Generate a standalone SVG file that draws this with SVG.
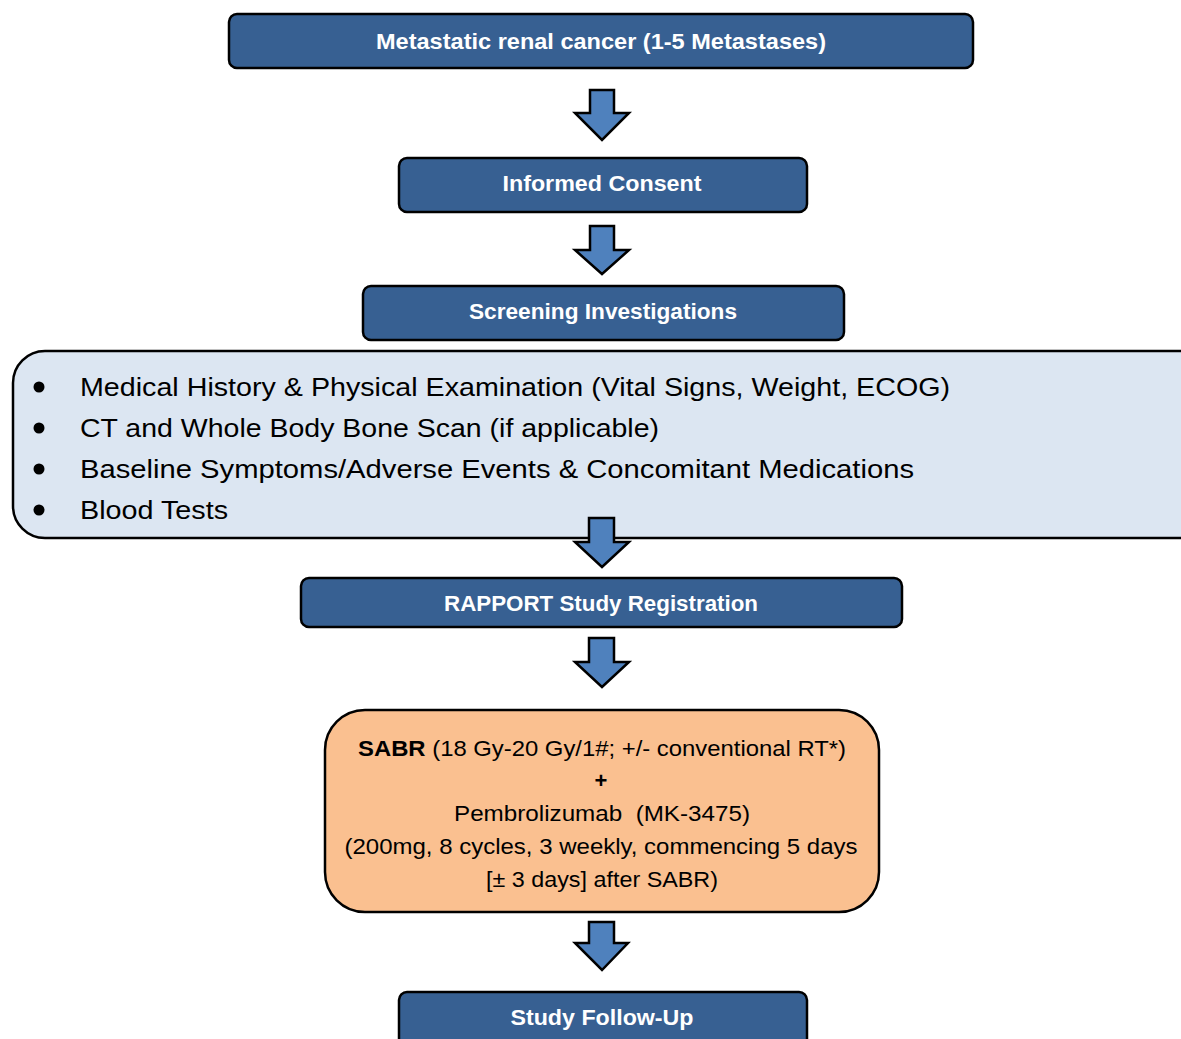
<svg xmlns="http://www.w3.org/2000/svg" width="1181" height="1039" viewBox="0 0 1181 1039">
<defs>
<style>
.hdr{fill:#376092;stroke:#000;stroke-width:2.5}
.hdrt{fill:#fff;font-family:"Liberation Sans",Arial,sans-serif;font-weight:bold;font-size:22px;text-anchor:middle}
.arr{fill:#4f81bd;stroke:#000;stroke-width:2.5;stroke-linejoin:miter}
.lst{font-family:"Liberation Sans",Arial,sans-serif;font-size:26px;fill:#000}
.ot{font-family:"Liberation Sans",Arial,sans-serif;font-size:22px;fill:#000;text-anchor:middle}
</style>
</defs>
<rect width="1181" height="1039" fill="#fff"/>
<g id="n1"><rect class="hdr" x="229" y="14" width="744" height="54" rx="8"/><text class="hdrt" x="601" y="49" textLength="450" lengthAdjust="spacingAndGlyphs">Metastatic renal cancer (1-5 Metastases)</text></g>
<g id="n2"><rect class="hdr" x="399" y="158" width="408" height="54" rx="8"/><text class="hdrt" x="602" y="191" textLength="199" lengthAdjust="spacingAndGlyphs">Informed Consent</text></g>
<g id="n3"><rect class="hdr" x="363" y="286" width="481" height="54" rx="8"/><text class="hdrt" x="603" y="319" textLength="268" lengthAdjust="spacingAndGlyphs">Screening Investigations</text></g>
<g id="n4"><rect x="13" y="351" width="1200" height="187" rx="32" fill="#dce6f2" stroke="#000" stroke-width="2.5"/>
<circle cx="39" cy="387" r="5.5"/><circle cx="39" cy="428" r="5.5"/><circle cx="39" cy="469" r="5.5"/><circle cx="39" cy="510" r="5.5"/>
<text class="lst" x="80" y="396" textLength="870" lengthAdjust="spacingAndGlyphs">Medical History &amp; Physical Examination (Vital Signs, Weight, ECOG)</text>
<text class="lst" x="80" y="437" textLength="579" lengthAdjust="spacingAndGlyphs">CT and Whole Body Bone Scan (if applicable)</text>
<text class="lst" x="80" y="478" textLength="834" lengthAdjust="spacingAndGlyphs">Baseline Symptoms/Adverse Events &amp; Concomitant Medications</text>
<text class="lst" x="80" y="519" textLength="148" lengthAdjust="spacingAndGlyphs">Blood Tests</text></g>
<g id="n5"><rect class="hdr" x="301" y="578" width="601" height="49" rx="8"/><text class="hdrt" x="601" y="611" textLength="314" lengthAdjust="spacingAndGlyphs">RAPPORT Study Registration</text></g>
<g id="n6"><rect x="325" y="710" width="554" height="202" rx="40" fill="#fac090" stroke="#000" stroke-width="2.5"/>
<text class="ot" x="602" y="756" textLength="488" lengthAdjust="spacingAndGlyphs"><tspan font-weight="bold">SABR</tspan> (18 Gy-20 Gy/1#; +/- conventional RT*)</text>
<text class="ot" x="601" y="788" font-weight="bold">+</text>
<text class="ot" x="602" y="821" textLength="296" lengthAdjust="spacingAndGlyphs">Pembrolizumab &#160;(MK-3475)</text>
<text class="ot" x="601" y="854" textLength="513" lengthAdjust="spacingAndGlyphs">(200mg, 8 cycles, 3 weekly, commencing 5 days</text>
<text class="ot" x="602" y="887" textLength="232" lengthAdjust="spacingAndGlyphs">[± 3 days] after SABR)</text></g>
<g id="n7"><rect class="hdr" x="399" y="992" width="408" height="60" rx="8"/><text class="hdrt" x="602" y="1025" textLength="183" lengthAdjust="spacingAndGlyphs">Study Follow-Up</text></g>
<g id="connectors">
<path class="arr" d="M590,90 H614 V113 H629 L602,140 L575,113 H590 Z"/>
<path class="arr" d="M590,226 H614 V250 H629 L602,274 L575,250 H590 Z"/>
<path class="arr" d="M589,518 H614 V542 H629 L602,567 L575,542 H589 Z"/>
<path class="arr" d="M589,638 H614 V662 H629 L602,687 L575,662 H589 Z"/>
<path class="arr" d="M589,922 H614 V943 H628 L602,970 L575,943 H589 Z"/>
</g>
</svg>
